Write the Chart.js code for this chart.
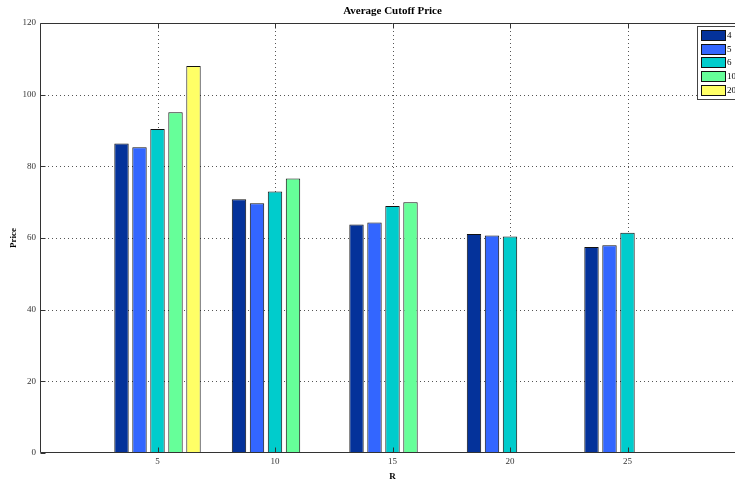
<!DOCTYPE html>
<html>
<head>
<meta charset="utf-8">
<title>Average Cutoff Price</title>
<script src="https://cdn.jsdelivr.net/npm/chart.js@4/dist/chart.umd.min.js"></script>
<style>
  html, body { margin: 0; padding: 0; overflow: hidden; background: #fff; }
  #wrap { width: 760px; height: 483px; }
</style>
</head>
<body>
<div id="wrap"><canvas id="c" width="760" height="483"></canvas></div>
<script>
// R values on the x axis and the average cutoff price per series
const R = [5, 10, 15, 20, 25];
const seriesNames = ['4', '5', '6', '10', '20'];
const price4  = [86.4, 70.8, 63.8, 61.1, 57.5];
const price5  = [85.3, 69.7, 64.3, 60.7, 58.0];
const price6  = [90.4, 73.0, 68.9, 60.4, 61.5];
const price10 = [95.1, 76.6, 70.0, null, null];
const price20 = [108.0, null, null, null, null];
const xTicks = [5, 10, 15, 20, 25];
const yTicks = [0, 20, 40, 60, 80, 100, 120];
const chartTitle = 'Average Cutoff Price';

const seriesValues = [price4, price5, price6, price10, price20];
const seriesColors = ['#04329a', '#3366ff', '#00cccc', '#66ff99', '#ffff66'];

const serif = "'Liberation Serif', 'Times New Roman', serif";
const axisColor = '#333333';

// dotted grid behind the bars, boxed axes with inward ticks, title over the axes,
// legend inside the top-right corner
const framePlugin = {
  id: 'frame',
  beforeDatasetsDraw(chart) {
    const { ctx, chartArea: a, scales: { x, y } } = chart;
    ctx.save();
    ctx.strokeStyle = '#555555';
    ctx.lineWidth = 1;
    ctx.setLineDash([1, 3]);
    yTicks.forEach(v => {
      if (v === yTicks[0] || v === yTicks[yTicks.length - 1]) return;
      const py = Math.round(y.getPixelForValue(v)) + 0.5;
      ctx.beginPath(); ctx.moveTo(a.left, py); ctx.lineTo(a.right, py); ctx.stroke();
    });
    xTicks.forEach(v => {
      const px = Math.round(x.getPixelForValue(v)) + 0.5;
      ctx.beginPath(); ctx.moveTo(px, a.top); ctx.lineTo(px, a.bottom); ctx.stroke();
    });
    ctx.restore();
  },
  afterDatasetsDraw(chart) {
    const { ctx, chartArea: a, scales: { x, y } } = chart;
    const L = Math.round(a.left) + 0.5, T = Math.round(a.top) + 0.5;
    const B = Math.round(a.bottom) - 0.5, Rr = Math.round(a.right) - 0.5;
    ctx.save();
    ctx.strokeStyle = axisColor;
    ctx.lineWidth = 1;
    ctx.beginPath();
    ctx.moveTo(L, T); ctx.lineTo(Rr, T); ctx.lineTo(Rr, B); ctx.lineTo(L, B); ctx.closePath();
    ctx.stroke();
    const tl = 5;
    ctx.beginPath();
    yTicks.forEach(v => {
      const py = Math.round(y.getPixelForValue(v)) + 0.5;
      ctx.moveTo(L, py); ctx.lineTo(L + tl, py);
      ctx.moveTo(Rr, py); ctx.lineTo(Rr - tl, py);
    });
    xTicks.forEach(v => {
      const px = Math.round(x.getPixelForValue(v)) + 0.5;
      ctx.moveTo(px, B); ctx.lineTo(px, B - tl);
      ctx.moveTo(px, T); ctx.lineTo(px, T + tl);
    });
    ctx.stroke();

    // title centred over the plot area
    ctx.fillStyle = '#000000';
    ctx.font = 'bold 11px ' + serif;
    ctx.textAlign = 'center';
    ctx.textBaseline = 'middle';
    ctx.fillText(chartTitle, (a.left + a.right) / 2, a.top - 12);

    // legend box
    const lx = Math.round(a.right) - 48, ly = Math.round(a.top) + 3;
    const lw = 45, lh = 73;
    ctx.fillStyle = '#ffffff';
    ctx.fillRect(lx, ly, lw, lh);
    ctx.strokeStyle = '#444444';
    ctx.strokeRect(lx + 0.5, ly + 0.5, lw, lh);
    ctx.font = '9px ' + serif;
    ctx.textBaseline = 'middle';
    ctx.textAlign = 'left';
    chart.data.datasets.forEach((ds, i) => {
      const sy = ly + 4 + i * 13.7;
      ctx.fillStyle = ds.backgroundColor;
      ctx.fillRect(lx + 4, Math.round(sy), 25, 11);
      ctx.strokeStyle = '#111111';
      ctx.strokeRect(lx + 4.5, Math.round(sy) + 0.5, 24, 10);
      ctx.fillStyle = '#000000';
      ctx.fillText(ds.label, lx + 30, Math.round(sy) + 6);
    });
    ctx.restore();
  }
};

const datasets = seriesNames.map((name, i) => ({
  label: name,
  data: R.map((r, j) => ({ x: r, y: seriesValues[i][j] })),
  backgroundColor: seriesColors[i],
  borderColor: '#111111',
  borderWidth: 1,
  borderSkipped: false,
  categoryPercentage: 0.766,
  barPercentage: 0.8
}));

new Chart(document.getElementById('c'), {
  type: 'bar',
  data: { datasets },
  options: {
    responsive: false,
    animation: false,
    devicePixelRatio: 1,
    layout: { padding: { left: 0, right: 15, top: 23, bottom: 0 } },
    plugins: {
      legend: { display: false },
      tooltip: { enabled: false },
      title: { display: false }
    },
    scales: {
      x: {
        type: 'linear',
        min: 0,
        max: 30,
        offset: false,
        grid: { display: false, drawTicks: false, offset: false },
        border: { display: false },
        afterBuildTicks: s => { s.ticks = xTicks.map(v => ({ value: v })); },
        afterFit: s => { s.height = 30; },
        ticks: {
          color: axisColor,
          font: { family: serif, size: 9, lineHeight: 1.2 },
          padding: 3,
          maxRotation: 0,
          autoSkip: false
        },
        title: {
          display: true,
          text: 'R',
          color: '#000000',
          font: { family: serif, size: 9, weight: 'bold', lineHeight: 1.2 },
          padding: { top: 0, bottom: 1 }
        }
      },
      y: {
        min: 0,
        max: 120,
        grid: { display: false, drawTicks: false },
        border: { display: false },
        afterBuildTicks: s => { s.ticks = yTicks.map(v => ({ value: v })); },
        afterFit: s => { s.width = 40; },
        ticks: {
          color: axisColor,
          font: { family: serif, size: 9, lineHeight: 1.2 },
          padding: 4,
          autoSkip: false
        },
        title: {
          display: true,
          text: 'Price',
          color: '#000000',
          font: { family: serif, size: 9, weight: 'bold', lineHeight: 1.2 },
          padding: { top: 8, bottom: 0 }
        }
      }
    }
  },
  plugins: [framePlugin]
});
</script>
</body>
</html>
